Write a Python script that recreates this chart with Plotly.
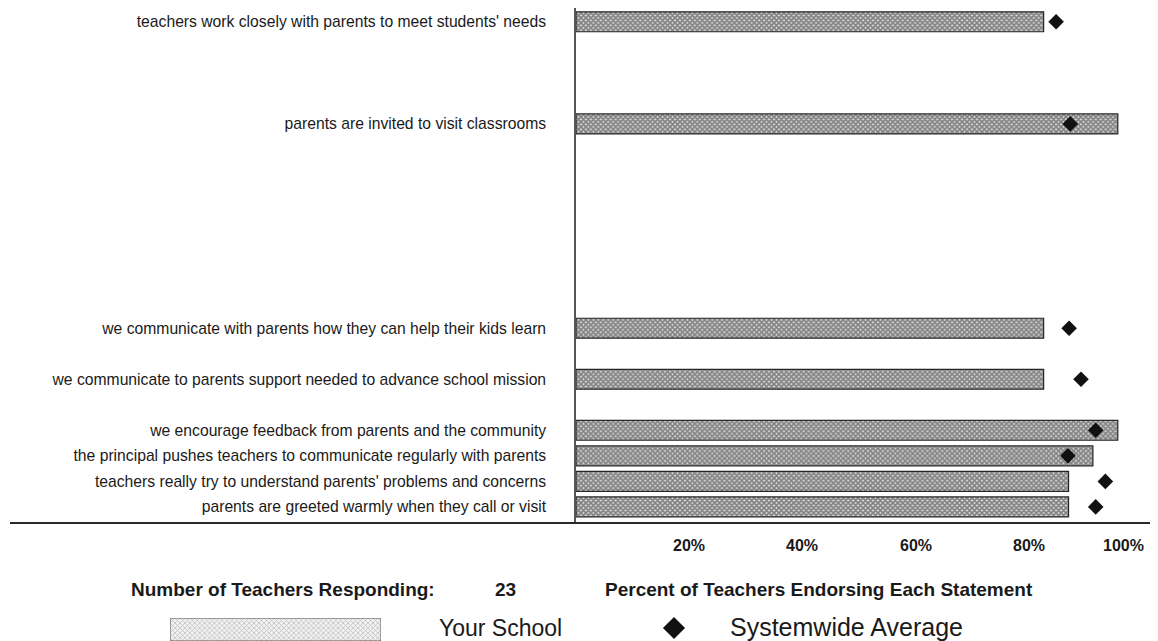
import plotly.graph_objects as go

# Enoncés (de haut en bas)
STATEMENTS = [
    "teachers work closely with parents to meet students' needs",
    "parents are invited to visit classrooms",
    "we communicate with parents how they can help their kids learn",
    "we communicate to parents support needed to advance school mission",
    "we encourage feedback from parents and the community",
    "the principal pushes teachers to communicate regularly with parents",
    "teachers really try to understand parents' problems and concerns",
    "parents are greeted warmly when they call or visit",
]
YOUR_SCHOOL = [82.6, 95.7, 82.6, 82.6, 95.7, 91.3, 87.0, 87.0]
SYSTEMWIDE = [84.8, 87.3, 87.1, 89.2, 91.8, 86.9, 93.5, 91.8]

X_TICKS = [20, 40, 60, 80, 100]
X_TICK_TEXT = ["20%", "40%", "60%", "80%", "100%"]

N_TEACHERS = 23

# ordre des lignes du bas vers le haut ("" = ligne vide)
ROW_ORDER = [7, 6, 5, 4, "", 3, "", 2, "", "", "", "", "", "", "", 1, "", "", "", 0]

FONT = "Liberation Sans, Arial, sans-serif"
TEXT = '#1a1a1a'

# la page a une marge de 8 px : la figure est décalée d'autant
OFF = 8
W, H = 1158 - OFF, 641 - OFF


def fx(px):
    return (px - OFF) / W


def fy(py):
    return (H - (py - OFF)) / H


# catégories (les lignes vides ont des noms uniques faits d'espaces)
cats = []
blank = 0
for r in ROW_ORDER:
    if r == "":
        blank += 1
        cats.append(" " * blank)
    else:
        cats.append(STATEMENTS[r])

fig = go.Figure()
fig.add_trace(go.Bar(
    y=STATEMENTS,
    x=YOUR_SCHOOL,
    orientation='h',
    width=0.78,
    marker=dict(
        color='#606060',
        line=dict(color='#262626', width=1.2),
        pattern=dict(shape='x', size=3.5, solidity=0.75,
                     fgcolor='#282828', bgcolor='#dedede')
    ),
    showlegend=False,
    hovertemplate='%{y}<br>Your School: %{x:.0f}%<extra></extra>'
))
fig.add_trace(go.Scatter(
    y=STATEMENTS,
    x=SYSTEMWIDE,
    mode='markers',
    marker=dict(symbol='diamond', size=12, color='#111111'),
    showlegend=False,
    hovertemplate='%{y}<br>Systemwide: %{x:.0f}%<extra></extra>'
))

# légende : barre hachurée et losange
fig.add_trace(go.Bar(
    y=[0], x=[1], orientation='h', width=1,
    xaxis='x2', yaxis='y2',
    marker=dict(
        color='#dddddd',
        line=dict(color='#555555', width=1),
        pattern=dict(shape='x', size=3.5, solidity=0.4,
                     fgcolor='#8a8a8a', bgcolor='#f2f2f2')
    ),
    showlegend=False, hoverinfo='skip'
))
fig.add_trace(go.Scatter(
    x=[0.5], y=[0.5], mode='markers',
    xaxis='x3', yaxis='y3',
    marker=dict(symbol='diamond', size=17, color='#111111'),
    showlegend=False, hoverinfo='skip'
))

fig.update_layout(
    width=W, height=H,
    margin=dict(l=0, r=0, t=0, b=0),
    paper_bgcolor='white',
    plot_bgcolor='white',
    font=dict(family=FONT, color=TEXT),
    xaxis=dict(
        domain=[fx(576), 1],
        range=[0, 102.8],
        showgrid=False, zeroline=False, showline=False,
        showticklabels=False, ticks=''
    ),
    yaxis=dict(
        domain=[fy(523), 1],
        type='category',
        categoryorder='array',
        categoryarray=cats,
        range=[-0.63, 19.54],
        showgrid=False, zeroline=False,
        showline=True, linecolor='#555555', linewidth=1.5,
        ticks='', ticklabelstandoff=25,
        tickfont=dict(size=15.7, color=TEXT)
    ),
    xaxis2=dict(domain=[fx(170), fx(381)], range=[0, 1], visible=False,
                anchor='y2'),
    yaxis2=dict(domain=[fy(641), fy(618)], range=[-0.5, 0.5], visible=False,
                anchor='x2'),
    xaxis3=dict(domain=[fx(654), fx(694)], range=[0, 1], visible=False,
                anchor='y3'),
    yaxis3=dict(domain=[fy(641), fy(615)], range=[0, 1], visible=False,
                anchor='x3'),
)

# ligne de base
fig.add_shape(type='line', xref='paper', yref='paper',
              x0=fx(10), x1=fx(1150), y0=fy(523), y1=fy(523),
              line=dict(color='#2a2a2a', width=2))

# étiquettes de l'axe des x (la dernière est calée à droite pour rester visible)
for v, t in zip(X_TICKS, X_TICK_TEXT):
    last = v == X_TICKS[-1]
    fig.add_annotation(
        x=v, xref='x', y=fy(545), yref='paper',
        text=f'<b>{t}</b>', showarrow=False,
        xanchor='right' if last else 'center', yanchor='middle',
        xshift=4 if last else 0,
        font=dict(size=16, color=TEXT, family=FONT)
    )

texts = [
    (129, 589, 'left', '<b>Number of Teachers Responding:</b>', 19),
    (505, 589, 'center', f'<b>{N_TEACHERS}</b>', 19),
    (603, 589, 'left', '<b>Percent of Teachers Endorsing Each Statement</b>', 19),
    (437, 628, 'left', 'Your School', 23),
    (728, 627, 'left', 'Systemwide Average', 25),
]
for px, py, anchor, t, sz in texts:
    fig.add_annotation(
        x=fx(px), y=fy(py), xref='paper', yref='paper',
        text=t, showarrow=False, xanchor=anchor, yanchor='middle',
        font=dict(size=sz, color=TEXT, family=FONT)
    )

fig.write_html("out.html")
